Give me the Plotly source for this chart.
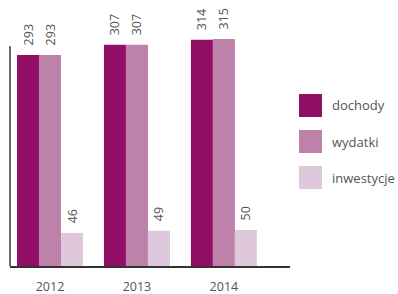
import plotly.graph_objects as go

years = ["2012", "2013", "2014"]
series_names = ["dochody", "wydatki", "inwestycje"]
dochody = [293, 307, 314]
wydatki = [293, 307, 315]
inwestycje = [46, 49, 50]
colors = ["#920f67", "#be81aa", "#e0c8dc"]

W, H = 398, 294
ML, MR, MT, MB = 10, 108, 0, 28
PW, PH = W - ML - MR, H - MT - MB
YMAX = 266 / 0.7205
FONT = "Open Sans"
TXT = "#555555"

values = [dochody, wydatki, inwestycje]
fig = go.Figure()
for name, vals, col in zip(series_names, values, colors):
    fig.add_trace(go.Bar(x=years, y=vals, name=name, marker=dict(color=col, line=dict(width=0)),
                         showlegend=False,
                         texttemplate="\u00a0\u00a0%{y}", textposition="outside", textangle=-90,
                         cliponaxis=False, constraintext="none",
                         outsidetextfont=dict(family=FONT, size=12.5, color=TXT)))

# y axis line
fig.add_shape(type="line", xref="paper", yref="y", x0=0, x1=0, y0=0, y1=305,
              line=dict(color="#333333", width=1.5))

# manual legend
def px2paperx(px):
    return (px - ML) / PW
def py2papery(py):
    return (MT + PH - py) / PH

for i, (name, col) in enumerate(zip(series_names, colors)):
    top = 94 + 36 * i
    fig.add_shape(type="rect", xref="paper", yref="paper",
                  x0=px2paperx(299), x1=px2paperx(322), y0=py2papery(top + 23), y1=py2papery(top),
                  fillcolor=col, line=dict(width=0))
    fig.add_annotation(xref="paper", yref="paper", x=px2paperx(330), y=py2papery(top + 11.5),
                       text=name, showarrow=False, xanchor="left", yanchor="middle",
                       font=dict(family=FONT, size=13, color=TXT))

fig.update_layout(
    width=W, height=H, margin=dict(l=ML, r=MR, t=MT, b=MB, autoexpand=False),
    paper_bgcolor="white", plot_bgcolor="white",
    barmode="group", bargap=0.241, bargroupgap=0,
    xaxis=dict(range=[-0.46, 2.76], showline=True, linecolor="#333333", linewidth=1.5,
               ticks="outside", ticklen=8, tickcolor="rgba(0,0,0,0)",
               tickfont=dict(family=FONT, size=12.5, color=TXT), showgrid=False, zeroline=False),
    yaxis=dict(range=[0, YMAX], visible=False, showgrid=False, zeroline=False),
    font=dict(family=FONT),
)
fig.write_html("out.html", config={"displayModeBar": False},
               post_script="document.body.style.margin='0';")
